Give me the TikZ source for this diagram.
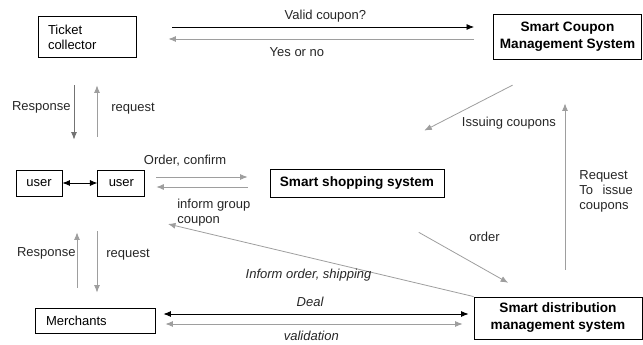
\documentclass[tikz,border=0pt]{standalone}
\usepackage{fontspec}
\setmainfont{Liberation Sans}
\usetikzlibrary{arrows.meta, positioning}

\begin{document}
\begin{tikzpicture}[ % coupon / shopping / distribution overview
    x=1pt, y=-1pt, % pixel-like units
    font=\fontsize{13}{15}\selectfont,
    >={Latex[length=7.5pt, width=6pt]},
    block/.style={rectangle, draw, line width=0.9pt, inner sep=0pt, align=center},
    sysblock/.style={block, font=\fontsize{13.6}{17}\selectfont\bfseries},
    line/.style={draw, line width=0.8pt, color=black!38, ->},
    bline/.style={draw, line width=0.8pt, color=black, ->},
    lbl/.style={inner sep=0pt, text=black!85},
    ilbl/.style={lbl, font=\fontsize{13}{15}\selectfont\itshape}
    ]
    \useasboundingbox (0,0) rectangle (643,345);

    % Nodes
    \node [block, minimum width=98pt, minimum height=41pt, text width=78pt, align=left] (ticket) at (87,37) {Ticket\\collector};
    \node [sysblock, minimum width=148pt, minimum height=45pt] (coupon) at (567.5,37) {Smart Coupon\\Management System};
    \node [block, minimum width=46pt, minimum height=26pt] (user1) at (39,183) {user};
    \node [block, minimum width=47pt, minimum height=26pt, right=35pt of user1] (user2) {user};
    \node [sysblock, minimum width=174pt, minimum height=28pt] (shop) at (357,183) {Smart shopping system};
    \node [block, minimum width=120pt, minimum height=25pt, text width=98pt, align=left] (merch) at (95,320.5) {Merchants};
    \node [sysblock, minimum width=168pt, minimum height=42pt] (dist) at (558,318) {Smart distribution\\management system};
    \coordinate (informTip) at (168,224);

    % Ticket collector <-> coupon system
    \path [bline, shorten <=36pt, shorten >=19pt] ([yshift=10pt]ticket.east) -- node [lbl, above=4.5pt, pos=0.53] {Valid coupon?} ([yshift=10pt]ticket.east -| coupon.west);
    \path [line, shorten <=19pt, shorten >=32pt] ([yshift=-2pt]coupon.west) -- node [lbl, below=8pt, pos=0.55] {Yes or no} ([yshift=-2pt]coupon.west -| ticket.east);

    % Ticket collector <-> user
    \path [line, color=black!55, shorten <=27.5pt, shorten >=30pt] ([xshift=-13pt]ticket.south) -- node [lbl, left=3pt, pos=0.44] {Response} ([xshift=-13pt]ticket.south |- user1.north);
    \path [line, shorten <=33pt, shorten >=27.5pt] ([xshift=10pt]ticket.south |- user2.north) -- node [lbl, right=14pt, pos=0.55] {request} ([xshift=10pt]ticket.south);

    % user <-> user
    \path [bline, <->] (user1) -- (user2);

    % user <-> shopping system
    \path [line, shorten <=11pt, shorten >=22pt] ([yshift=6pt]user2.east) -- node [lbl, above=10pt, pos=0.32] {Order, confirm} ([yshift=6pt]user2.east -| shop.west);
    \path [line, shorten <=22pt, shorten >=11pt] ([yshift=-4pt]shop.west) -- node [lbl, pos=0.746, anchor=north west, yshift=-12pt, align=left] {inform group\\coupon} ([yshift=-4pt]shop.west -| user2.east);

    % coupon system -> shopping system, and back
    \path [line, shorten <=55pt, shorten >=83pt] ([xshift=-6pt]coupon.south) -- node [lbl, pos=0.42, xshift=36pt, yshift=-17.5pt] {Issuing coupons} ([xshift=-6.5pt]shop.north);
    \path [line, shorten <=27pt, shorten >=43.5pt] ([xshift=7pt]dist.north) -- node [lbl, right=14pt, pos=0.446, align=left] {Request\\To\ \ \,issue\\coupons} ([xshift=-2.5pt]coupon.south);

    % shopping system -> distribution
    \path [line, shorten <=71pt, shorten >=28pt] (shop.south) -- node [lbl, pos=0.59, xshift=24pt, yshift=19pt] {order} ([xshift=-25.5pt]dist.north);
    \path [line] (dist.north west) -- node [ilbl, pos=0.54, below=11pt] {Inform order, shipping} (informTip);

    % Merchants <-> user
    \path [line, shorten <=20pt, shorten >=36pt] ([xshift=-18pt]merch.north) -- node [lbl, left=1pt, pos=0.49] {Response} ([xshift=-18pt]merch.north |- user1.south);
    \path [line, shorten <=35pt, shorten >=15pt] ([xshift=2pt]merch.north |- user2.south) -- node [lbl, right=9pt, pos=0.52] {request} ([xshift=2pt]merch.north);

    % Merchants <-> distribution
    \path [bline, <->, shorten <=8pt, shorten >=5pt] ([yshift=6.5pt]merch.east) -- node [ilbl, above=7pt, pos=0.486] {Deal} ([yshift=6.5pt]merch.east -| dist.west);
    \path [line, <->, shorten <=10pt, shorten >=11pt] ([yshift=-3.5pt]merch.east) -- node [ilbl, below=7pt, pos=0.49] {validation} ([yshift=-3.5pt]merch.east -| dist.west);

\end{tikzpicture}
\end{document}
